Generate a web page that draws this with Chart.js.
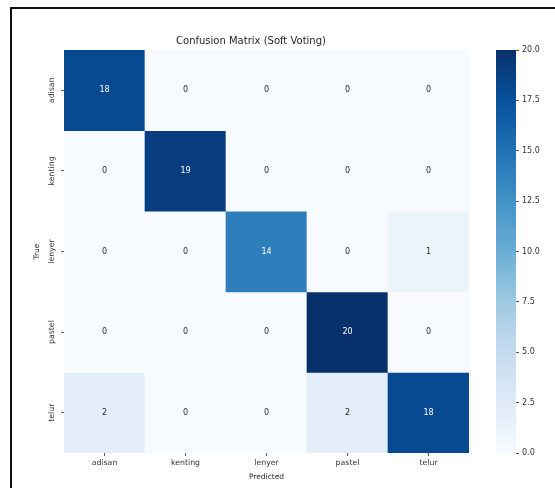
<!DOCTYPE html>
<html>
<head>
<meta charset="utf-8">
<script src="https://cdn.jsdelivr.net/npm/chart.js@4.4.1/dist/chart.umd.min.js"></script>
<style>
  html, body { margin: 0; padding: 0; background: #fff; }
  #wrap { position: relative; width: 555px; height: 488px; overflow: hidden; background: #fff; }
  #frame { position: absolute; left: 10px; top: 7px; width: 700px; height: 700px;
           border-left: 2px solid #111; border-top: 2px solid #111; }
  #cm { position: absolute; left: 0; top: 0; }
  #cb { position: absolute; left: 480px; top: 0; }
</style>
</head>
<body>
<div id="wrap">
  <div id="frame"></div>
  <canvas id="cm" width="495" height="488"></canvas>
  <canvas id="cb" width="75" height="488"></canvas>
</div>
<script>
// Class names (rows = true class, columns = predicted class)
const classLabels = ['adisan', 'kenting', 'lenyer', 'pastel', 'telur'];

// Confusion matrix counts, one array per true class
const rowAdisan  = [18, 0, 0, 0, 0];
const rowKenting = [0, 19, 0, 0, 0];
const rowLenyer  = [0, 0, 14, 0, 1];
const rowPastel  = [0, 0, 0, 20, 0];
const rowTelur   = [2, 0, 0, 2, 18];

// Colour scale range and colourbar ticks
const colorRange = [0, 20];
const colorbarTicks = [0, 2.5, 5, 7.5, 10, 12.5, 15, 17.5, 20];

const matrixRows = [rowAdisan, rowKenting, rowLenyer, rowPastel, rowTelur];
const FONT = '"DejaVu Sans", "Liberation Sans", sans-serif';
const TICK_SIZE = 7.8;

// "Blues" sequential colormap
const bluesStops = ['#f7fbff', '#deebf7', '#c6dbef', '#9ecae1', '#6baed6',
                    '#4292c6', '#2171b5', '#08519c', '#08306b'];
function hexToRgb(h) {
  return [parseInt(h.slice(1, 3), 16), parseInt(h.slice(3, 5), 16), parseInt(h.slice(5, 7), 16)];
}
function bluesRgb(t) {
  t = Math.max(0, Math.min(1, t));
  const pos = t * (bluesStops.length - 1);
  const i = Math.min(Math.floor(pos), bluesStops.length - 2);
  const f = pos - i;
  const a = hexToRgb(bluesStops[i]), b = hexToRgb(bluesStops[i + 1]);
  return a.map((c, k) => Math.round(c + (b[k] - c) * f));
}
function blues(t) {
  const c = bluesRgb(t);
  return `rgb(${c[0]},${c[1]},${c[2]})`;
}
function norm(v) { return (v - colorRange[0]) / (colorRange[1] - colorRange[0]); }
function luminance(rgb) {
  const lin = rgb.map(c => { c /= 255; return c <= 0.03928 ? c / 12.92 : Math.pow((c + 0.055) / 1.055, 2.4); });
  return 0.2126 * lin[0] + 0.7152 * lin[1] + 0.0722 * lin[2];
}
function annotColor(v) {
  return luminance(bluesRgb(norm(v))) > 0.408 ? '#2a2a2a' : '#ffffff';
}

// Width of the widest row label, used to centre the rotated y tick labels
const measureCtx = document.createElement('canvas').getContext('2d');
measureCtx.font = TICK_SIZE + 'px ' + FONT;
const widestRowLabel = Math.max(...classLabels.map(l => measureCtx.measureText(l).width));

// One stacked dataset per true-class row; each cell is one unit tall
const datasets = matrixRows.map((row, r) => ({
  label: classLabels[r],
  data: row.map(() => 1),
  counts: row,
  backgroundColor: row.map(v => blues(norm(v))),
  borderWidth: 0,
  barPercentage: 1,
  categoryPercentage: 1,
  stack: 'matrix'
}));

// Writes the count in the middle of every cell
const cellValuePlugin = {
  id: 'cellValues',
  afterDatasetsDraw(chart) {
    const ctx = chart.ctx;
    ctx.save();
    ctx.font = '8px ' + FONT;
    ctx.textAlign = 'center';
    ctx.textBaseline = 'middle';
    chart.data.datasets.forEach((ds, di) => {
      const meta = chart.getDatasetMeta(di);
      meta.data.forEach((bar, i) => {
        const v = ds.counts[i];
        ctx.fillStyle = annotColor(v);
        ctx.fillText(String(v), bar.x, (bar.y + bar.base) / 2);
      });
    });
    ctx.restore();
  }
};

new Chart(document.getElementById('cm'), {
  type: 'bar',
  data: { labels: classLabels, datasets },
  plugins: [cellValuePlugin],
  options: {
    responsive: false,
    animation: false,
    layout: { padding: { left: 33, right: 26, top: 0, bottom: 0 } },
    plugins: {
      legend: { display: false },
      tooltip: { enabled: false },
      title: {
        display: true,
        text: 'Confusion Matrix (Soft Voting)',
        color: '#262626',
        font: { family: FONT, size: 10, weight: 'normal' },
        padding: { top: 35, bottom: 3 }
      }
    },
    scales: {
      x: {
        type: 'category',
        stacked: true,
        offset: true,
        grid: { display: true, offset: false, drawOnChartArea: false, drawTicks: true,
                tickLength: 3, color: '#333', lineWidth: 0.8 },
        border: { display: false },
        ticks: { color: '#333', font: { family: FONT, size: TICK_SIZE }, padding: 2, maxRotation: 0, autoSkip: false },
        title: { display: true, text: 'Predicted', color: '#262626',
                 font: { family: FONT, size: 7.5 }, padding: { top: 0, bottom: 6 } },
        afterFit(scale) { scale.height = 35; }
      },
      y: {
        type: 'linear',
        stacked: true,
        reverse: true,
        min: 0,
        max: 5,
        afterBuildTicks(scale) {
          scale.ticks = classLabels.map((_, i) => ({ value: i + 0.5 }));
        },
        grid: { display: true, drawOnChartArea: false, drawTicks: true,
                tickLength: 3, color: '#333', lineWidth: 0.8 },
        border: { display: false },
        ticks: {
          color: '#333',
          font: { family: FONT, size: TICK_SIZE },
          minRotation: 90,
          maxRotation: 90,
          crossAlign: 'center',
          padding: 9 - widestRowLabel / 2,
          callback: (v) => classLabels[Math.floor(v)]
        },
        title: { display: true, text: 'True', color: '#262626',
                 font: { family: FONT, size: 7.5 }, padding: { top: 0, bottom: 0 } },
        afterFit(scale) { scale.width = 31; }
      }
    }
  }
});

// Colourbar: one floating bar spanning the colour range, filled with the colormap
new Chart(document.getElementById('cb'), {
  type: 'bar',
  data: {
    labels: [''],
    datasets: [{
      data: [colorRange.slice()],
      borderWidth: 0,
      barPercentage: 1,
      categoryPercentage: 1,
      backgroundColor(c) {
        const a = c.chart.chartArea;
        if (!a) return blues(1);
        const g = c.chart.ctx.createLinearGradient(0, a.bottom, 0, a.top);
        for (let i = 0; i <= 40; i++) g.addColorStop(i / 40, blues(i / 40));
        return g;
      }
    }]
  },
  options: {
    responsive: false,
    animation: false,
    layout: { padding: { left: 16, right: 0, top: 50, bottom: 35 } },
    plugins: { legend: { display: false }, tooltip: { enabled: false } },
    scales: {
      x: { display: false },
      y: {
        position: 'right',
        min: colorRange[0],
        max: colorRange[1],
        afterBuildTicks(scale) { scale.ticks = colorbarTicks.map(v => ({ value: v })); },
        grid: { display: true, drawOnChartArea: false, drawTicks: true,
                tickLength: 3, color: '#333', lineWidth: 0.8 },
        border: { display: false },
        ticks: { color: '#333', font: { family: FONT, size: 8 }, padding: 3,
                 callback: (v) => Number(v).toFixed(1) },
        afterFit(scale) { scale.width = 39; }
      }
    }
  }
});
</script>
</body>
</html>
